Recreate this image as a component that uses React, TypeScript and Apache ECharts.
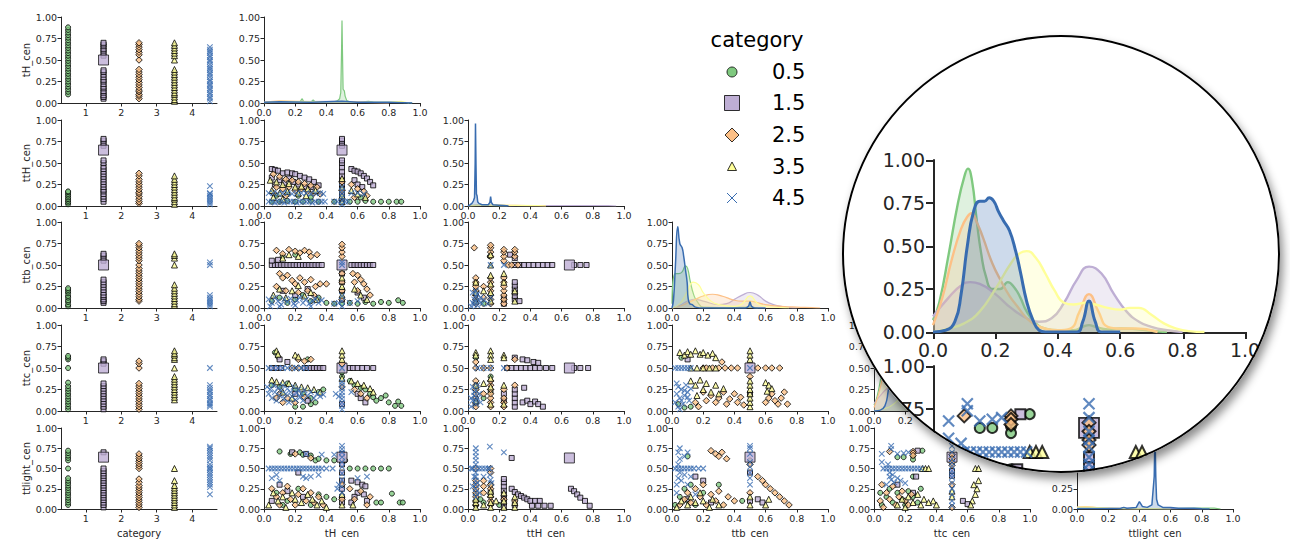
import React, { useEffect, useRef } from 'react';
import * as echarts from 'echarts';

type Pt = [number, number];

// ---------------- categories / variables ----------------
const VARIABLES = ['tH_cen', 'ttH_cen', 'ttb_cen', 'ttc_cen', 'ttlight_cen'];
const CATEGORIES = ['0.5', '1.5', '2.5', '3.5', '4.5'];
const CATEGORY_X = [0.5, 1.5, 2.5, 3.5, 4.5];
const CATEGORY_TICKS = [1, 2, 3, 4];
const COLORS = ['#7fc97f', '#beaed4', '#fdc086', '#ffff99', '#386cb0'];

// ---------------- strip plots (column "category") ----------------
// order inside each: [0.5, 1.5, 2.5, 3.5, 4.5]
const strip_tH: number[][] = [
  [0.10, 0.13, 0.16, 0.19, 0.22, 0.25, 0.28, 0.31, 0.34, 0.37, 0.40, 0.43, 0.46, 0.49, 0.52, 0.55, 0.58, 0.61, 0.64, 0.67, 0.70, 0.73, 0.76, 0.79, 0.82, 0.85, 0.88],
  [0.05, 0.07, 0.09, 0.12, 0.14, 0.17, 0.19, 0.22, 0.25, 0.27, 0.30, 0.33, 0.36, 0.38, 0.55, 0.58, 0.61, 0.63, 0.66, 0.68, 0.70],
  [0.05, 0.08, 0.10, 0.13, 0.15, 0.18, 0.21, 0.24, 0.27, 0.30, 0.33, 0.36, 0.39, 0.50, 0.56, 0.59, 0.62, 0.65, 0.68, 0.70],
  [0.02, 0.04, 0.07, 0.10, 0.12, 0.15, 0.18, 0.21, 0.24, 0.27, 0.30, 0.33, 0.36, 0.39, 0.50, 0.55, 0.58, 0.61, 0.64, 0.67, 0.70],
  [0.02, 0.05, 0.07, 0.10, 0.12, 0.15, 0.17, 0.20, 0.22, 0.25, 0.27, 0.30, 0.33, 0.35, 0.38, 0.40, 0.42, 0.45, 0.48, 0.50, 0.53, 0.55, 0.58, 0.60, 0.62, 0.65],
];
const strip_ttH: number[][] = [
  [0.02, 0.04, 0.06, 0.08, 0.10, 0.12, 0.14, 0.16, 0.17],
  [0.05, 0.08, 0.11, 0.14, 0.17, 0.19, 0.22, 0.25, 0.28, 0.31, 0.34, 0.37, 0.40, 0.43, 0.46, 0.50, 0.53, 0.70, 0.73, 0.76, 0.78],
  [0.03, 0.05, 0.08, 0.11, 0.14, 0.16, 0.19, 0.22, 0.25, 0.28, 0.31, 0.35, 0.38],
  [0.02, 0.05, 0.08, 0.10, 0.13, 0.16, 0.19, 0.22, 0.25, 0.28, 0.31, 0.35],
  [0.02, 0.04, 0.06, 0.08, 0.10, 0.12, 0.14, 0.15, 0.23],
];
const strip_ttb: number[][] = [
  [0.02, 0.04, 0.07, 0.09, 0.12, 0.14, 0.17, 0.19, 0.21, 0.23],
  [0.06, 0.08, 0.10, 0.13, 0.15, 0.18, 0.21, 0.24, 0.27, 0.30, 0.33, 0.55, 0.58, 0.61, 0.63],
  [0.08, 0.10, 0.13, 0.16, 0.19, 0.22, 0.25, 0.28, 0.31, 0.34, 0.37, 0.40, 0.43, 0.46, 0.50, 0.55, 0.58, 0.61, 0.64, 0.67, 0.70, 0.73, 0.75],
  [0.03, 0.05, 0.08, 0.11, 0.14, 0.17, 0.20, 0.23, 0.27, 0.50, 0.58, 0.61, 0.63],
  [0.02, 0.04, 0.06, 0.08, 0.10, 0.12, 0.15, 0.50, 0.53],
];
const strip_ttc: number[][] = [
  [0.02, 0.05, 0.08, 0.11, 0.14, 0.17, 0.20, 0.23, 0.26, 0.29, 0.33, 0.50, 0.60, 0.62, 0.64],
  [0.02, 0.05, 0.08, 0.11, 0.14, 0.17, 0.20, 0.23, 0.26, 0.29, 0.32, 0.55, 0.58, 0.60],
  [0.02, 0.05, 0.08, 0.11, 0.14, 0.17, 0.20, 0.23, 0.26, 0.29, 0.32, 0.50, 0.55, 0.58],
  [0.13, 0.16, 0.19, 0.22, 0.25, 0.28, 0.31, 0.34, 0.37, 0.40, 0.50, 0.60, 0.62, 0.65, 0.67, 0.70],
  [0.05, 0.07, 0.09, 0.12, 0.14, 0.17, 0.19, 0.22, 0.24, 0.27, 0.30, 0.50],
];
const strip_ttlight: number[][] = [
  [0.05, 0.08, 0.11, 0.14, 0.17, 0.20, 0.23, 0.26, 0.29, 0.32, 0.35, 0.38, 0.50, 0.60, 0.63, 0.66, 0.69, 0.72],
  [0.02, 0.05, 0.08, 0.11, 0.14, 0.17, 0.20, 0.23, 0.26, 0.29, 0.32, 0.35, 0.38, 0.41, 0.44, 0.47, 0.50, 0.70],
  [0.02, 0.05, 0.08, 0.11, 0.14, 0.17, 0.20, 0.23, 0.26, 0.29, 0.33, 0.37, 0.50, 0.53, 0.56, 0.59, 0.62, 0.65, 0.68],
  [0.02, 0.05, 0.08, 0.11, 0.14, 0.17, 0.20, 0.23, 0.26, 0.29, 0.35, 0.50],
  [0.18, 0.27, 0.30, 0.33, 0.36, 0.39, 0.42, 0.45, 0.48, 0.50, 0.52, 0.55, 0.60, 0.63, 0.66, 0.69, 0.72, 0.75, 0.77],
];
// the single large 1.5 marker in each strip row
const stripBig: number[] = [0.5, 0.65, 0.5, 0.5, 0.64];

// ---------------- scatter cells: [x, y] per category ----------------
const sc_tH_ttH: Pt[][] = [
  [[0.05, 0.05], [0.1, 0.05], [0.15, 0.06], [0.2, 0.05], [0.25, 0.05], [0.3, 0.06], [0.35, 0.05], [0.08, 0.12], [0.15, 0.14], [0.22, 0.12], [0.3, 0.1], [0.45, 0.05], [0.5, 0.08], [0.5, 0.12], [0.55, 0.05], [0.6, 0.05], [0.65, 0.06], [0.7, 0.05], [0.75, 0.05], [0.8, 0.05], [0.85, 0.05], [0.88, 0.05], [0.62, 0.1]],
  [[0.05, 0.43], [0.07, 0.42], [0.09, 0.41], [0.12, 0.38], [0.15, 0.39], [0.18, 0.38], [0.2, 0.37], [0.23, 0.35], [0.26, 0.33], [0.29, 0.31], [0.32, 0.28], [0.35, 0.24], [0.05, 0.33], [0.07, 0.25], [0.1, 0.3], [0.13, 0.27], [0.16, 0.32], [0.19, 0.28], [0.22, 0.25], [0.26, 0.22], [0.3, 0.22], [0.5, 0.05], [0.5, 0.1], [0.5, 0.15], [0.5, 0.2], [0.5, 0.25], [0.5, 0.3], [0.5, 0.35], [0.5, 0.4], [0.5, 0.45], [0.5, 0.5], [0.5, 0.53], [0.5, 0.7], [0.5, 0.73], [0.5, 0.76], [0.5, 0.78], [0.56, 0.43], [0.58, 0.41], [0.6, 0.4], [0.62, 0.38], [0.64, 0.35], [0.66, 0.32], [0.68, 0.28], [0.7, 0.24], [0.58, 0.3], [0.6, 0.25], [0.63, 0.22]],
  [[0.06, 0.37], [0.1, 0.34], [0.14, 0.31], [0.18, 0.3], [0.22, 0.28], [0.26, 0.26], [0.3, 0.24], [0.34, 0.22], [0.08, 0.22], [0.12, 0.2], [0.16, 0.22], [0.2, 0.18], [0.24, 0.2], [0.28, 0.17], [0.32, 0.15], [0.36, 0.14], [0.06, 0.15], [0.14, 0.12], [0.5, 0.08], [0.5, 0.18], [0.5, 0.28], [0.56, 0.25], [0.6, 0.2], [0.64, 0.17], [0.58, 0.1], [0.66, 0.12]],
  [[0.04, 0.3], [0.08, 0.28], [0.12, 0.25], [0.16, 0.26], [0.2, 0.22], [0.24, 0.23], [0.28, 0.2], [0.33, 0.18], [0.05, 0.18], [0.1, 0.15], [0.15, 0.17], [0.22, 0.15], [0.27, 0.12], [0.06, 0.1], [0.12, 0.08], [0.5, 0.05], [0.5, 0.12], [0.5, 0.22], [0.5, 0.32], [0.56, 0.18], [0.6, 0.14], [0.65, 0.1]],
  [[0.03, 0.05], [0.05, 0.05], [0.07, 0.04], [0.09, 0.05], [0.11, 0.05], [0.13, 0.04], [0.15, 0.05], [0.17, 0.05], [0.19, 0.05], [0.21, 0.04], [0.23, 0.05], [0.25, 0.05], [0.27, 0.05], [0.29, 0.05], [0.31, 0.04], [0.33, 0.05], [0.35, 0.05], [0.37, 0.05], [0.39, 0.05], [0.03, 0.15], [0.06, 0.15], [0.09, 0.14], [0.12, 0.15], [0.15, 0.15], [0.18, 0.14], [0.21, 0.15], [0.24, 0.15], [0.27, 0.15], [0.3, 0.14], [0.33, 0.15], [0.36, 0.15], [0.38, 0.14], [0.45, 0.05], [0.47, 0.05], [0.5, 0.02], [0.5, 0.06], [0.5, 0.1], [0.5, 0.14], [0.5, 0.18], [0.5, 0.22], [0.52, 0.05], [0.54, 0.05], [0.56, 0.15], [0.6, 0.15], [0.64, 0.14]],
];
const sc_tH_ttb: Pt[][] = [
  [[0.05, 0.08], [0.1, 0.12], [0.15, 0.06], [0.2, 0.1], [0.25, 0.15], [0.3, 0.08], [0.35, 0.12], [0.4, 0.06], [0.45, 0.05], [0.5, 0.05], [0.55, 0.06], [0.6, 0.05], [0.65, 0.07], [0.7, 0.05], [0.75, 0.07], [0.8, 0.06], [0.86, 0.09], [0.89, 0.06], [0.12, 0.6], [0.2, 0.62]],
  [[0.05, 0.5], [0.07, 0.5], [0.09, 0.5], [0.11, 0.5], [0.13, 0.5], [0.15, 0.5], [0.17, 0.5], [0.19, 0.5], [0.21, 0.5], [0.23, 0.5], [0.25, 0.5], [0.27, 0.5], [0.29, 0.5], [0.31, 0.5], [0.33, 0.5], [0.35, 0.5], [0.37, 0.5], [0.56, 0.5], [0.58, 0.5], [0.6, 0.5], [0.62, 0.5], [0.64, 0.5], [0.66, 0.5], [0.68, 0.5], [0.7, 0.5], [0.05, 0.55], [0.09, 0.56], [0.5, 0.1], [0.5, 0.2], [0.5, 0.3], [0.5, 0.4], [0.12, 0.2], [0.2, 0.15], [0.28, 0.22], [0.6, 0.18], [0.64, 0.12]],
  [[0.08, 0.67], [0.12, 0.63], [0.16, 0.68], [0.2, 0.66], [0.23, 0.64], [0.26, 0.67], [0.29, 0.65], [0.3, 0.6], [0.34, 0.62], [0.1, 0.4], [0.12, 0.35], [0.15, 0.38], [0.18, 0.32], [0.2, 0.28], [0.23, 0.35], [0.26, 0.3], [0.3, 0.33], [0.33, 0.25], [0.36, 0.28], [0.4, 0.28], [0.08, 0.25], [0.14, 0.2], [0.22, 0.18], [0.28, 0.2], [0.32, 0.15], [0.5, 0.1], [0.5, 0.2], [0.5, 0.3], [0.5, 0.4], [0.5, 0.6], [0.5, 0.65], [0.5, 0.7], [0.5, 0.74], [0.57, 0.4], [0.6, 0.38], [0.62, 0.33], [0.58, 0.3], [0.64, 0.28], [0.66, 0.22], [0.6, 0.2], [0.68, 0.15]],
  [[0.06, 0.15], [0.1, 0.22], [0.14, 0.12], [0.18, 0.2], [0.22, 0.26], [0.26, 0.14], [0.3, 0.18], [0.34, 0.1], [0.12, 0.58], [0.16, 0.62], [0.22, 0.6], [0.5, 0.15], [0.5, 0.25], [0.5, 0.35], [0.58, 0.22], [0.62, 0.15], [0.66, 0.1]],
  [[0.03, 0.1], [0.05, 0.06], [0.07, 0.12], [0.09, 0.08], [0.11, 0.04], [0.13, 0.1], [0.15, 0.07], [0.17, 0.11], [0.19, 0.05], [0.21, 0.09], [0.23, 0.12], [0.25, 0.06], [0.27, 0.1], [0.29, 0.05], [0.31, 0.08], [0.33, 0.11], [0.35, 0.06], [0.37, 0.09], [0.04, 0.02], [0.1, 0.02], [0.2, 0.03], [0.3, 0.02], [0.45, 0.05], [0.48, 0.06], [0.5, 0.02], [0.5, 0.08], [0.5, 0.14], [0.5, 0.5], [0.5, 0.53], [0.55, 0.06], [0.6, 0.08]],
];
const sc_ttH_ttb: Pt[][] = [
  [[0.05, 0.2], [0.05, 0.28], [0.14, 0.6], [0.05, 0.1], [0.145, 0.15], [0.23, 0.1], [0.1, 0.05]],
  [[0.3, 0.5], [0.33, 0.5], [0.36, 0.5], [0.39, 0.5], [0.42, 0.5], [0.45, 0.5], [0.48, 0.5], [0.51, 0.5], [0.54, 0.5], [0.68, 0.5], [0.72, 0.5], [0.76, 0.5], [0.27, 0.62], [0.3, 0.58], [0.3, 0.1], [0.3, 0.14], [0.3, 0.18], [0.3, 0.22], [0.3, 0.26], [0.3, 0.3], [0.33, 0.08], [0.23, 0.05], [0.23, 0.12]],
  [[0.04, 0.7], [0.05, 0.05], [0.05, 0.1], [0.05, 0.15], [0.05, 0.2], [0.05, 0.25], [0.05, 0.3], [0.05, 0.35], [0.145, 0.05], [0.145, 0.1], [0.145, 0.15], [0.145, 0.2], [0.145, 0.25], [0.145, 0.3], [0.145, 0.35], [0.145, 0.6], [0.145, 0.65], [0.145, 0.7], [0.145, 0.73], [0.23, 0.05], [0.23, 0.1], [0.23, 0.15], [0.23, 0.2], [0.23, 0.25], [0.23, 0.3], [0.23, 0.35], [0.23, 0.55], [0.23, 0.6], [0.23, 0.65], [0.23, 0.68], [0.3, 0.6], [0.3, 0.65], [0.3, 0.68], [0.26, 0.5], [0.28, 0.5], [0.32, 0.5], [0.1, 0.25], [0.1, 0.12]],
  [[0.05, 0.08], [0.05, 0.18], [0.05, 0.3], [0.1, 0.2], [0.145, 0.08], [0.145, 0.18], [0.145, 0.28], [0.145, 0.38], [0.145, 0.5], [0.145, 0.62], [0.23, 0.4], [0.23, 0.3], [0.3, 0.08], [0.3, 0.2]],
  [[0.02, 0.02], [0.03, 0.06], [0.04, 0.1], [0.05, 0.14], [0.06, 0.03], [0.07, 0.08], [0.08, 0.12], [0.03, 0.18], [0.05, 0.2], [0.06, 0.16], [0.04, 0.04], [0.09, 0.05], [0.1, 0.1], [0.05, 0.08], [0.145, 0.5], [0.23, 0.5], [0.145, 0.12], [0.13, 0.05]],
];
const sc_tH_ttc: Pt[][] = [
  [[0.07, 0.68], [0.09, 0.63], [0.28, 0.6], [0.05, 0.3], [0.1, 0.28], [0.15, 0.32], [0.2, 0.25], [0.25, 0.2], [0.3, 0.15], [0.33, 0.1], [0.35, 0.22], [0.2, 0.05], [0.25, 0.05], [0.3, 0.08], [0.38, 0.25], [0.55, 0.35], [0.58, 0.3], [0.62, 0.27], [0.65, 0.25], [0.68, 0.2], [0.7, 0.16], [0.72, 0.12], [0.75, 0.15], [0.78, 0.18], [0.8, 0.1], [0.84, 0.06], [0.86, 0.11], [0.88, 0.06], [0.5, 0.4], [0.5, 0.45]],
  [[0.05, 0.5], [0.08, 0.5], [0.11, 0.5], [0.26, 0.5], [0.28, 0.5], [0.3, 0.5], [0.32, 0.5], [0.34, 0.5], [0.36, 0.5], [0.38, 0.5], [0.1, 0.6], [0.15, 0.57], [0.55, 0.5], [0.57, 0.5], [0.6, 0.5], [0.63, 0.5], [0.66, 0.5], [0.7, 0.5], [0.6, 0.2], [0.62, 0.15], [0.65, 0.1], [0.2, 0.2], [0.28, 0.12], [0.5, 0.08]],
  [[0.1, 0.2], [0.15, 0.15], [0.2, 0.1], [0.22, 0.6], [0.26, 0.58], [0.3, 0.6], [0.18, 0.5], [0.22, 0.5], [0.08, 0.15], [0.26, 0.16], [0.12, 0.1], [0.5, 0.55], [0.5, 0.28], [0.58, 0.25], [0.62, 0.2], [0.66, 0.15]],
  [[0.08, 0.7], [0.09, 0.66], [0.2, 0.65], [0.22, 0.63], [0.05, 0.36], [0.08, 0.34], [0.12, 0.33], [0.16, 0.32], [0.2, 0.3], [0.24, 0.28], [0.28, 0.27], [0.32, 0.25], [0.36, 0.22], [0.12, 0.22], [0.18, 0.15], [0.5, 0.6], [0.5, 0.65], [0.5, 0.7], [0.5, 0.38], [0.56, 0.35], [0.6, 0.32], [0.64, 0.3], [0.68, 0.26], [0.7, 0.22]],
  [[0.02, 0.28], [0.03, 0.2], [0.04, 0.25], [0.05, 0.15], [0.06, 0.3], [0.07, 0.22], [0.08, 0.12], [0.09, 0.27], [0.1, 0.18], [0.11, 0.24], [0.12, 0.3], [0.13, 0.14], [0.14, 0.2], [0.15, 0.26], [0.16, 0.1], [0.17, 0.22], [0.18, 0.17], [0.19, 0.28], [0.2, 0.13], [0.21, 0.21], [0.22, 0.25], [0.23, 0.16], [0.24, 0.2], [0.25, 0.12], [0.26, 0.24], [0.28, 0.18], [0.3, 0.22], [0.32, 0.15], [0.34, 0.2], [0.36, 0.17], [0.38, 0.19], [0.03, 0.5], [0.06, 0.5], [0.09, 0.5], [0.12, 0.5], [0.15, 0.5], [0.18, 0.5], [0.21, 0.5], [0.24, 0.5], [0.27, 0.5], [0.5, 0.02], [0.5, 0.06], [0.5, 0.1], [0.5, 0.14], [0.5, 0.18], [0.5, 0.22], [0.5, 0.26], [0.5, 0.3], [0.5, 0.34], [0.5, 0.5], [0.46, 0.2], [0.48, 0.17], [0.56, 0.22]],
];
const sc_ttH_ttc: Pt[][] = [
  [[0.05, 0.62], [0.05, 0.08], [0.1, 0.15], [0.145, 0.22], [0.05, 0.25], [0.145, 0.4]],
  [[0.25, 0.5], [0.28, 0.5], [0.31, 0.5], [0.34, 0.5], [0.37, 0.5], [0.4, 0.5], [0.43, 0.5], [0.46, 0.5], [0.5, 0.5], [0.54, 0.5], [0.68, 0.5], [0.72, 0.5], [0.77, 0.5], [0.3, 0.62], [0.35, 0.6], [0.38, 0.59], [0.42, 0.57], [0.45, 0.56], [0.3, 0.05], [0.3, 0.1], [0.3, 0.15], [0.3, 0.2], [0.3, 0.25], [0.35, 0.1], [0.36, 0.27], [0.38, 0.12], [0.4, 0.08], [0.43, 0.11], [0.45, 0.08], [0.48, 0.05], [0.23, 0.12], [0.23, 0.2]],
  [[0.05, 0.05], [0.05, 0.1], [0.05, 0.15], [0.05, 0.2], [0.05, 0.25], [0.05, 0.3], [0.05, 0.35], [0.05, 0.5], [0.05, 0.57], [0.1, 0.5], [0.1, 0.2], [0.145, 0.05], [0.145, 0.1], [0.145, 0.15], [0.145, 0.2], [0.145, 0.25], [0.145, 0.3], [0.145, 0.35], [0.145, 0.5], [0.23, 0.05], [0.23, 0.1], [0.23, 0.15], [0.23, 0.25], [0.3, 0.3], [0.3, 0.6], [0.25, 0.5]],
  [[0.05, 0.68], [0.05, 0.65], [0.145, 0.7], [0.145, 0.65], [0.145, 0.6], [0.23, 0.65], [0.23, 0.62], [0.05, 0.3], [0.145, 0.28], [0.145, 0.38], [0.23, 0.3], [0.23, 0.08], [0.145, 0.08], [0.05, 0.12], [0.1, 0.32]],
  [[0.02, 0.05], [0.03, 0.12], [0.04, 0.18], [0.05, 0.24], [0.06, 0.3], [0.03, 0.28], [0.05, 0.08], [0.06, 0.15], [0.07, 0.2], [0.04, 0.22], [0.02, 0.15], [0.08, 0.1], [0.05, 0.12], [0.1, 0.5], [0.145, 0.5], [0.23, 0.5], [0.06, 0.5]],
];
const sc_ttb_ttc: Pt[][] = [
  [[0.06, 0.62], [0.04, 0.08], [0.08, 0.04], [0.12, 0.05]],
  [[0.1, 0.6], [0.5, 0.2]],
  [[0.2, 0.5], [0.22, 0.5], [0.26, 0.5], [0.3, 0.5], [0.34, 0.5], [0.38, 0.5], [0.42, 0.5], [0.55, 0.5], [0.6, 0.5], [0.64, 0.5], [0.69, 0.5], [0.32, 0.57], [0.2, 0.22], [0.22, 0.12], [0.25, 0.18], [0.28, 0.1], [0.3, 0.15], [0.33, 0.22], [0.35, 0.08], [0.37, 0.14], [0.4, 0.2], [0.42, 0.1], [0.44, 0.16], [0.46, 0.07], [0.15, 0.1], [0.17, 0.05], [0.6, 0.1], [0.62, 0.15], [0.64, 0.2], [0.66, 0.12], [0.68, 0.08], [0.7, 0.15], [0.72, 0.22], [0.74, 0.08], [0.5, 0.4]],
  [[0.05, 0.68], [0.08, 0.65], [0.1, 0.69], [0.12, 0.66], [0.15, 0.7], [0.18, 0.66], [0.2, 0.68], [0.23, 0.65], [0.26, 0.67], [0.28, 0.62], [0.12, 0.5], [0.16, 0.5], [0.2, 0.5], [0.24, 0.5], [0.28, 0.5], [0.12, 0.35], [0.15, 0.3], [0.18, 0.36], [0.2, 0.25], [0.22, 0.32], [0.25, 0.22], [0.28, 0.3], [0.3, 0.2], [0.33, 0.26], [0.16, 0.18], [0.5, 0.05], [0.5, 0.1], [0.5, 0.15], [0.5, 0.2], [0.5, 0.25], [0.5, 0.3], [0.5, 0.35], [0.5, 0.6], [0.5, 0.65], [0.5, 0.7], [0.6, 0.33], [0.62, 0.3], [0.64, 0.26], [0.61, 0.23]],
  [[0.02, 0.5], [0.04, 0.5], [0.06, 0.5], [0.08, 0.5], [0.1, 0.5], [0.12, 0.5], [0.02, 0.1], [0.03, 0.2], [0.04, 0.28], [0.05, 0.15], [0.06, 0.25], [0.07, 0.08], [0.08, 0.18], [0.09, 0.3], [0.1, 0.22], [0.11, 0.12], [0.12, 0.26], [0.04, 0.05], [0.06, 0.12], [0.08, 0.24], [0.03, 0.32], [0.1, 0.16], [0.5, 0.5], [0.05, 0.02]],
];
const sc_tH_ttlight: Pt[][] = [
  [[0.1, 0.71], [0.17, 0.68], [0.23, 0.7], [0.25, 0.67], [0.3, 0.66], [0.33, 0.6], [0.35, 0.62], [0.4, 0.6], [0.45, 0.6], [0.52, 0.6], [0.55, 0.5], [0.6, 0.5], [0.65, 0.5], [0.7, 0.5], [0.75, 0.5], [0.8, 0.5], [0.4, 0.15], [0.45, 0.12], [0.72, 0.08], [0.75, 0.08], [0.82, 0.19], [0.87, 0.08], [0.89, 0.08], [0.08, 0.2], [0.15, 0.1], [0.22, 0.25], [0.3, 0.05], [0.35, 0.18], [0.12, 0.05]],
  [[0.18, 0.7], [0.27, 0.68], [0.22, 0.45], [0.5, 0.08], [0.5, 0.15], [0.5, 0.25], [0.5, 0.35], [0.5, 0.45], [0.5, 0.55], [0.5, 0.68], [0.56, 0.35], [0.6, 0.33], [0.63, 0.3], [0.65, 0.28], [0.6, 0.2], [0.58, 0.15], [0.64, 0.18], [0.66, 0.1], [0.56, 0.08], [0.1, 0.3], [0.15, 0.22], [0.25, 0.15], [0.05, 0.1]],
  [[0.2, 0.68], [0.3, 0.63], [0.05, 0.25], [0.08, 0.15], [0.1, 0.05], [0.12, 0.2], [0.15, 0.28], [0.17, 0.12], [0.2, 0.05], [0.22, 0.18], [0.25, 0.25], [0.27, 0.1], [0.3, 0.2], [0.32, 0.08], [0.35, 0.15], [0.38, 0.05], [0.55, 0.25], [0.58, 0.12], [0.62, 0.22], [0.66, 0.05], [0.68, 0.15], [0.5, 0.12], [0.5, 0.3]],
  [[0.03, 0.05], [0.06, 0.2], [0.09, 0.1], [0.12, 0.15], [0.14, 0.02], [0.18, 0.2], [0.2, 0.12], [0.24, 0.08], [0.28, 0.18], [0.31, 0.12], [0.34, 0.05], [0.37, 0.1], [0.4, 0.02], [0.5, 0.05], [0.5, 0.18], [0.57, 0.05]],
  [[0.03, 0.5], [0.05, 0.5], [0.07, 0.5], [0.09, 0.5], [0.11, 0.5], [0.13, 0.5], [0.15, 0.5], [0.17, 0.5], [0.19, 0.5], [0.21, 0.5], [0.23, 0.5], [0.25, 0.5], [0.27, 0.5], [0.29, 0.5], [0.31, 0.5], [0.33, 0.5], [0.35, 0.5], [0.37, 0.5], [0.4, 0.5], [0.44, 0.5], [0.5, 0.2], [0.5, 0.28], [0.5, 0.36], [0.5, 0.44], [0.5, 0.52], [0.5, 0.58], [0.5, 0.64], [0.5, 0.7], [0.5, 0.74], [0.5, 0.78], [0.27, 0.68], [0.37, 0.67], [0.45, 0.67], [0.25, 0.4], [0.27, 0.38], [0.3, 0.4], [0.35, 0.42], [0.48, 0.3], [0.47, 0.25], [0.6, 0.38], [0.66, 0.4], [0.05, 0.38], [0.1, 0.35], [0.08, 0.42]],
];
const sc_ttH_ttlight: Pt[][] = [
  [[0.05, 0.04], [0.05, 0.1], [0.05, 0.18], [0.08, 0.12], [0.145, 0.3], [0.1, 0.08], [0.2, 0.05]],
  [[0.28, 0.63], [0.23, 0.03], [0.23, 0.08], [0.23, 0.13], [0.23, 0.18], [0.23, 0.23], [0.23, 0.28], [0.23, 0.33], [0.23, 0.37], [0.28, 0.25], [0.3, 0.21], [0.32, 0.18], [0.34, 0.16], [0.36, 0.14], [0.38, 0.12], [0.4, 0.1], [0.43, 0.1], [0.46, 0.1], [0.41, 0.04], [0.45, 0.04], [0.49, 0.04], [0.53, 0.04], [0.66, 0.25], [0.68, 0.22], [0.7, 0.18], [0.72, 0.14], [0.75, 0.1], [0.78, 0.04], [0.145, 0.2], [0.3, 0.05]],
  [[0.05, 0.05], [0.05, 0.1], [0.05, 0.15], [0.05, 0.2], [0.05, 0.25], [0.05, 0.3], [0.05, 0.35], [0.1, 0.2], [0.1, 0.28], [0.1, 0.35], [0.145, 0.05], [0.145, 0.1], [0.145, 0.15], [0.145, 0.25], [0.145, 0.3], [0.145, 0.45], [0.145, 0.5], [0.05, 0.5], [0.23, 0.12], [0.3, 0.1]],
  [[0.05, 0.02], [0.05, 0.08], [0.05, 0.12], [0.145, 0.02], [0.145, 0.08], [0.145, 0.18], [0.145, 0.22], [0.23, 0.02], [0.23, 0.1], [0.23, 0.2], [0.3, 0.02], [0.3, 0.08], [0.3, 0.15], [0.1, 0.05], [0.18, 0.1]],
  [[0.05, 0.15], [0.05, 0.2], [0.05, 0.25], [0.05, 0.3], [0.05, 0.35], [0.05, 0.4], [0.05, 0.45], [0.05, 0.5], [0.05, 0.55], [0.05, 0.6], [0.05, 0.65], [0.05, 0.7], [0.05, 0.75], [0.02, 0.5], [0.03, 0.5], [0.07, 0.5], [0.09, 0.5], [0.11, 0.5], [0.13, 0.5], [0.04, 0.4], [0.06, 0.32], [0.03, 0.28], [0.07, 0.2], [0.1, 0.4], [0.14, 0.77], [0.23, 0.7], [0.14, 0.5], [0.14, 0.42], [0.15, 0.32], [0.145, 0.36]],
];
const sc_ttb_ttlight: Pt[][] = [
  [[0.02, 0.05], [0.05, 0.15], [0.08, 0.25], [0.1, 0.1], [0.12, 0.3], [0.15, 0.05], [0.2, 0.2], [0.5, 0.6], [0.45, 0.1], [0.1, 0.65], [0.3, 0.3]],
  [[0.5, 0.1], [0.5, 0.45], [0.55, 0.12], [0.58, 0.08], [0.15, 0.4], [0.2, 0.35], [0.1, 0.12], [0.25, 0.08]],
  [[0.25, 0.72], [0.28, 0.68], [0.3, 0.65], [0.32, 0.7], [0.35, 0.62], [0.05, 0.05], [0.08, 0.12], [0.1, 0.2], [0.12, 0.08], [0.15, 0.25], [0.18, 0.15], [0.2, 0.3], [0.22, 0.05], [0.25, 0.18], [0.28, 0.1], [0.3, 0.22], [0.33, 0.05], [0.36, 0.15], [0.4, 0.1], [0.5, 0.2], [0.5, 0.55], [0.55, 0.4], [0.58, 0.35], [0.6, 0.3], [0.63, 0.25], [0.66, 0.2], [0.69, 0.15], [0.72, 0.1], [0.75, 0.05]],
  [[0.03, 0.02], [0.06, 0.1], [0.1, 0.05], [0.12, 0.15], [0.15, 0.08], [0.18, 0.2], [0.2, 0.1], [0.24, 0.02], [0.26, 0.12], [0.3, 0.05], [0.5, 0.05], [0.5, 0.15], [0.6, 0.05], [0.62, 0.12]],
  [[0.02, 0.5], [0.04, 0.5], [0.06, 0.5], [0.08, 0.5], [0.1, 0.5], [0.12, 0.5], [0.14, 0.5], [0.17, 0.5], [0.2, 0.5], [0.03, 0.2], [0.03, 0.3], [0.04, 0.38], [0.05, 0.45], [0.04, 0.55], [0.05, 0.62], [0.04, 0.7], [0.05, 0.75], [0.06, 0.35], [0.08, 0.42], [0.1, 0.3], [0.12, 0.4], [0.08, 0.65], [0.1, 0.7], [0.5, 0.3], [0.5, 0.38], [0.5, 0.45], [0.5, 0.52], [0.5, 0.58], [0.5, 0.68], [0.5, 0.75], [0.5, 0.78], [0.15, 0.18]],
];
const sc_ttc_ttlight: Pt[][] = [
  [[0.15, 0.64], [0.19, 0.64], [0.25, 0.65], [0.25, 0.61], [0.31, 0.72], [0.25, 0.4], [0.05, 0.05], [0.08, 0.15], [0.1, 0.25], [0.12, 0.08], [0.15, 0.2], [0.18, 0.12], [0.2, 0.05], [0.22, 0.22], [0.25, 0.15], [0.28, 0.08], [0.04, 0.2], [0.3, 0.25]],
  [[0.28, 0.72], [0.27, 0.4], [0.5, 0.47], [0.5, 0.41], [0.57, 0.1], [0.6, 0.06], [0.25, 0.2], [0.15, 0.3]],
  [[0.1, 0.71], [0.25, 0.71], [0.25, 0.69], [0.25, 0.66], [0.5, 0.67], [0.5, 0.62], [0.5, 0.57], [0.5, 0.54], [0.04, 0.1], [0.06, 0.02], [0.08, 0.2], [0.1, 0.12], [0.12, 0.28], [0.14, 0.05], [0.16, 0.15], [0.18, 0.22], [0.2, 0.1], [0.22, 0.05], [0.24, 0.18], [0.5, 0.02], [0.5, 0.3], [0.05, 0.3]],
  [[0.31, 0.5], [0.33, 0.5], [0.35, 0.5], [0.65, 0.5], [0.67, 0.5], [0.15, 0.05], [0.18, 0.12], [0.2, 0.02], [0.22, 0.15], [0.25, 0.08], [0.28, 0.18], [0.3, 0.05], [0.32, 0.12], [0.35, 0.08], [0.38, 0.1], [0.4, 0.05], [0.63, 0.1], [0.65, 0.18], [0.66, 0.25], [0.64, 0.3], [0.67, 0.35], [0.62, 0.05], [0.5, 0.15], [0.5, 0.22]],
  [[0.11, 0.78], [0.05, 0.68], [0.11, 0.74], [0.15, 0.68], [0.19, 0.69], [0.22, 0.7], [0.06, 0.5], [0.08, 0.5], [0.1, 0.5], [0.12, 0.5], [0.14, 0.5], [0.16, 0.5], [0.18, 0.5], [0.2, 0.5], [0.22, 0.5], [0.24, 0.5], [0.26, 0.5], [0.28, 0.5], [0.3, 0.5], [0.1, 0.45], [0.1, 0.4], [0.12, 0.42], [0.11, 0.36], [0.13, 0.33], [0.08, 0.3], [0.15, 0.38], [0.17, 0.35], [0.2, 0.32], [0.05, 0.58], [0.09, 0.55], [0.5, 0.78], [0.5, 0.7], [0.5, 0.62], [0.5, 0.57], [0.5, 0.53], [0.5, 0.47], [0.5, 0.43], [0.5, 0.39], [0.5, 0.32], [0.5, 0.25], [0.5, 0.18], [0.5, 0.1], [0.5, 0.04]],
];
// the single large 1.5 marker in each scatter cell
const big_tH_ttH: Pt[] = [[0.5, 0.65]];
const big_tH_ttb: Pt[] = [[0.5, 0.5]];
const big_ttH_ttb: Pt[] = [[0.65, 0.5]];
const big_tH_ttc: Pt[] = [[0.5, 0.5]];
const big_ttH_ttc: Pt[] = [[0.65, 0.5]];
const big_ttb_ttc: Pt[] = [[0.5, 0.5]];
const big_tH_ttlight: Pt[] = [[0.5, 0.64]];
const big_ttH_ttlight: Pt[] = [[0.65, 0.63]];
const big_ttb_ttlight: Pt[] = [[0.5, 0.64]];
const big_ttc_ttlight: Pt[] = [[0.5, 0.64]];

// ---------------- diagonal density curves ----------------
const kde_tH: Pt[][] = [
  [[0, 0.005], [0.05, 0.01], [0.1, 0.012], [0.2, 0.01], [0.23, 0.012], [0.245, 0.05], [0.255, 0.012], [0.3, 0.01], [0.315, 0.035], [0.33, 0.01], [0.4, 0.01], [0.45, 0.015], [0.47, 0.025], [0.485, 0.05], [0.492, 0.12], [0.497, 0.6], [0.5, 0.96], [0.503, 0.6], [0.507, 0.16], [0.515, 0.14], [0.52, 0.08], [0.53, 0.03], [0.55, 0.01], [0.6, 0.008], [0.67, 0.02], [0.7, 0.01], [0.8, 0.008], [0.88, 0.01], [0.9, 0.003], [0.95, 0]],
  [[0, 0.005], [0.2, 0.015], [0.5, 0.02], [0.65, 0.01], [0.8, 0]],
  [[0, 0.01], [0.1, 0.025], [0.2, 0.02], [0.3, 0.015], [0.5, 0.015], [0.6, 0.01], [0.7, 0.005], [0.8, 0]],
  [[0, 0.005], [0.1, 0.02], [0.3, 0.015], [0.5, 0.01], [0.8, 0.008], [0.88, 0.02], [0.93, 0]],
  [[0, 0.01], [0.1, 0.015], [0.3, 0.01], [0.5, 0.02], [0.6, 0.01], [0.8, 0.008], [0.9, 0.003], [0.95, 0]],
];
const kde_ttH: Pt[][] = [
  [[0, 0.004], [0.1, 0.01], [0.2, 0.002], [0.25, 0]],
  [[0.2, 0], [0.3, 0.004], [0.5, 0.006], [0.7, 0.006], [0.9, 0.004], [0.95, 0]],
  [[0, 0.005], [0.1, 0.01], [0.3, 0.008], [0.45, 0.003], [0.5, 0]],
  [[0, 0.003], [0.1, 0.008], [0.2, 0.01], [0.3, 0.008], [0.45, 0.005], [0.5, 0]],
  [[0, 0], [0.01, 0.01], [0.025, 0.03], [0.035, 0.06], [0.042, 0.1], [0.046, 0.5], [0.048, 0.96], [0.051, 0.5], [0.054, 0.14], [0.058, 0.12], [0.062, 0.05], [0.07, 0.03], [0.09, 0.015], [0.13, 0.015], [0.14, 0.04], [0.145, 0.11], [0.15, 0.04], [0.16, 0.015], [0.2, 0.01], [0.23, 0.005], [0.26, 0]],
];
const kde_ttb: Pt[][] = [
  [[0, 0.05], [0.02, 0.4], [0.043, 0.4], [0.065, 0.42], [0.086, 0.49], [0.1, 0.46], [0.118, 0.3], [0.14, 0.15], [0.16, 0.08], [0.2, 0.01], [0.3, 0.005], [0.5, 0.01], [0.55, 0]],
  [[0, 0], [0.05, 0.03], [0.1, 0.08], [0.15, 0.1], [0.2, 0.08], [0.3, 0.04], [0.35, 0.05], [0.4, 0.1], [0.45, 0.15], [0.5, 0.18], [0.55, 0.15], [0.6, 0.08], [0.65, 0.04], [0.7, 0.02], [0.75, 0.005], [0.8, 0]],
  [[0, 0], [0.05, 0.02], [0.1, 0.06], [0.15, 0.1], [0.2, 0.14], [0.26, 0.16], [0.3, 0.15], [0.35, 0.12], [0.4, 0.09], [0.45, 0.08], [0.5, 0.08], [0.55, 0.06], [0.6, 0.04], [0.7, 0.02], [0.8, 0.01], [0.9, 0.005], [0.95, 0]],
  [[0, 0], [0.05, 0.05], [0.1, 0.2], [0.135, 0.3], [0.17, 0.27], [0.2, 0.18], [0.25, 0.08], [0.3, 0.04], [0.4, 0.02], [0.45, 0.05], [0.5, 0.14], [0.55, 0.05], [0.6, 0.02], [0.7, 0.005], [0.75, 0]],
  [[0, 0], [0.01, 0.1], [0.022, 0.5], [0.037, 0.945], [0.05, 0.75], [0.065, 0.7], [0.075, 0.6], [0.086, 0.45], [0.097, 0.3], [0.103, 0.12], [0.114, 0.05], [0.13, 0.04], [0.15, 0.01], [0.2, 0], [0.47, 0], [0.49, 0.02], [0.5, 0.07], [0.51, 0.02], [0.53, 0], [0.6, 0]],
];
const kde_ttc: Pt[][] = [
  [[0, 0.07], [0.02, 0.17], [0.05, 0.45], [0.08, 0.75], [0.1, 0.9], [0.112, 0.95], [0.125, 0.88], [0.14, 0.65], [0.155, 0.45], [0.17, 0.32], [0.19, 0.25], [0.215, 0.25], [0.24, 0.29], [0.26, 0.26], [0.28, 0.2], [0.3, 0.12], [0.33, 0.05], [0.36, 0.02], [0.4, 0.01], [0.45, 0.01], [0.48, 0.03], [0.5, 0.04], [0.52, 0.03], [0.56, 0.015], [0.6, 0.02], [0.64, 0.018], [0.7, 0.007], [0.75, 0]],
  [[0, 0.09], [0.05, 0.2], [0.09, 0.27], [0.12, 0.29], [0.15, 0.28], [0.2, 0.22], [0.25, 0.14], [0.3, 0.08], [0.34, 0.06], [0.38, 0.08], [0.42, 0.17], [0.46, 0.3], [0.5, 0.38], [0.54, 0.34], [0.58, 0.22], [0.62, 0.12], [0.66, 0.06], [0.7, 0.03], [0.75, 0.01], [0.8, 0]],
  [[0, 0.04], [0.03, 0.2], [0.06, 0.42], [0.09, 0.6], [0.11, 0.67], [0.124, 0.69], [0.14, 0.64], [0.16, 0.55], [0.19, 0.4], [0.22, 0.29], [0.245, 0.21], [0.27, 0.15], [0.3, 0.08], [0.33, 0.04], [0.36, 0.02], [0.4, 0.01], [0.44, 0.02], [0.47, 0.12], [0.5, 0.22], [0.53, 0.12], [0.56, 0.03], [0.6, 0.02], [0.65, 0.02], [0.72, 0]],
  [[0, 0], [0.05, 0.02], [0.1, 0.05], [0.15, 0.12], [0.2, 0.25], [0.25, 0.4], [0.28, 0.46], [0.3, 0.47], [0.33, 0.43], [0.36, 0.34], [0.39, 0.24], [0.42, 0.17], [0.45, 0.16], [0.49, 0.17], [0.52, 0.16], [0.56, 0.14], [0.6, 0.13], [0.63, 0.14], [0.66, 0.14], [0.7, 0.1], [0.74, 0.05], [0.78, 0.02], [0.82, 0.005], [0.87, 0]],
  [[0, 0], [0.04, 0.01], [0.07, 0.06], [0.09, 0.22], [0.11, 0.5], [0.13, 0.7], [0.15, 0.76], [0.165, 0.76], [0.18, 0.78], [0.195, 0.76], [0.21, 0.7], [0.225, 0.65], [0.245, 0.59], [0.265, 0.47], [0.28, 0.35], [0.3, 0.18], [0.32, 0.07], [0.34, 0.01], [0.36, 0], [0.46, 0], [0.48, 0.06], [0.5, 0.18], [0.52, 0.06], [0.54, 0], [0.6, 0]],
];
const kde_ttlight: Pt[][] = [
  [[0, 0.01], [0.1, 0.01], [0.3, 0.005], [0.6, 0.005], [0.8, 0.01], [0.88, 0.01], [0.92, 0]],
  [[0, 0.01], [0.2, 0.008], [0.5, 0.005], [0.7, 0.004], [0.8, 0]],
  [[0, 0.025], [0.05, 0.03], [0.1, 0.025], [0.15, 0.01], [0.3, 0.005], [0.4, 0]],
  [[0, 0.02], [0.05, 0.025], [0.1, 0.02], [0.2, 0.01], [0.3, 0.005], [0.5, 0.005], [0.6, 0]],
  [[0, 0.005], [0.1, 0.005], [0.2, 0.005], [0.28, 0.01], [0.3, 0.02], [0.32, 0.01], [0.38, 0.02], [0.4, 0.09], [0.42, 0.03], [0.45, 0.02], [0.48, 0.05], [0.495, 0.4], [0.5, 0.95], [0.505, 0.4], [0.51, 0.12], [0.52, 0.05], [0.55, 0.02], [0.6, 0.02], [0.65, 0.01], [0.75, 0.01], [0.8, 0.002], [0.85, 0]],
];

// ---------------- lookup tables built from the arrays ----------------
const STRIPS = [strip_tH, strip_ttH, strip_ttb, strip_ttc, strip_ttlight];
const KDES = [kde_tH, kde_ttH, kde_ttb, kde_ttc, kde_ttlight];
const SCATTERS: Record<string, { pts: Pt[][]; big: Pt[] }> = {
  '1-1': { pts: sc_tH_ttH, big: big_tH_ttH },
  '2-1': { pts: sc_tH_ttb, big: big_tH_ttb },
  '2-2': { pts: sc_ttH_ttb, big: big_ttH_ttb },
  '3-1': { pts: sc_tH_ttc, big: big_tH_ttc },
  '3-2': { pts: sc_ttH_ttc, big: big_ttH_ttc },
  '3-3': { pts: sc_ttb_ttc, big: big_ttb_ttc },
  '4-1': { pts: sc_tH_ttlight, big: big_tH_ttlight },
  '4-2': { pts: sc_ttH_ttlight, big: big_ttH_ttlight },
  '4-3': { pts: sc_ttb_ttlight, big: big_ttb_ttlight },
  '4-4': { pts: sc_ttc_ttlight, big: big_ttc_ttlight },
};

// ---------------- layout / style ----------------
const COL_X = [61, 264, 468, 672, 874, 1077];
const ROW_Y = [17, 120, 222, 325, 428];
const CELL_W = 156;
const CELL_H = 86;
const INK = '#262626';
const FONT = 'DejaVu Sans';
const TICK_FONT = 9.5;
const X_SYMBOL = 'path://M0,0L10,10M10,0L0,10';
const SYMBOLS = ['circle', 'rect', 'diamond', 'triangle', X_SYMBOL];
const SIZES = [5, 5, 6.5, 6, 5.5];

function axisCommon() {
  return {
    splitLine: { show: false },
    axisLine: { show: true, onZero: false, lineStyle: { color: INK, width: 1 } },
    axisTick: { show: true, length: 3.5, lineStyle: { color: INK, width: 1 } },
  };
}

function markerStyle(k: number) {
  if (k === 4) return { color: 'rgba(0,0,0,0)', borderColor: COLORS[4], borderWidth: 1.1 };
  return { color: COLORS[k], borderColor: '#000', borderWidth: 1 };
}

function buildOption(only: string[] | null, isLens: boolean) {
  const grid: any[] = [];
  const xAxis: any[] = [];
  const yAxis: any[] = [];
  const series: any[] = [];

  for (let r = 0; r < 5; r++) {
    for (let c = 0; c <= r + 1; c++) {
      const key = `${r}-${c}`;
      if (only && !only.includes(key)) continue;
      const gi = grid.length;
      grid.push({ left: COL_X[c], top: ROW_Y[r], width: CELL_W, height: CELL_H, containLabel: false });
      const bottomName = !isLens && r === 4 ? (c === 0 ? 'category' : VARIABLES[c - 1]) : '';
      const base = axisCommon();
      // inside the lens, the lower cell only shows its upper y labels
      const lensLower = isLens && key === '4-4';
      if (c === 0) {
        xAxis.push({
          gridIndex: gi, type: 'value', min: 0.3, max: 4.7,
          ...base,
          axisTick: { ...base.axisTick, customValues: CATEGORY_TICKS },
          axisLabel: { customValues: CATEGORY_TICKS, fontSize: TICK_FONT, color: INK, margin: 4, fontFamily: FONT },
          name: bottomName, nameLocation: 'middle', nameGap: 19,
          nameTextStyle: { fontSize: 10, color: INK, fontFamily: FONT },
        });
      } else {
        xAxis.push({
          gridIndex: gi, type: 'value', min: 0, max: 1, interval: 0.2,
          ...base,
          axisLabel: { show: !lensLower, fontSize: TICK_FONT, color: INK, margin: 4, fontFamily: FONT, formatter: (v: number) => v.toFixed(1) },
          name: bottomName, nameLocation: 'middle', nameGap: 19,
          nameTextStyle: { fontSize: 10, color: INK, fontFamily: FONT },
        });
      }
      const yLabel: any = { fontSize: TICK_FONT, color: INK, margin: 4, fontFamily: FONT, formatter: (v: number) => v.toFixed(2) };
      if (lensLower) yLabel.customValues = [0.75, 1];
      yAxis.push({
        gridIndex: gi, type: 'value', min: 0, max: 1, interval: 0.25,
        ...base,
        axisLabel: yLabel,
        name: c === 0 && !isLens ? VARIABLES[r] : '', nameLocation: 'middle', nameGap: 18, nameRotate: 90,
        nameTextStyle: { fontSize: 10, color: INK, fontFamily: FONT },
      });

      if (c === 0) {
        // strip plot
        for (let k = 0; k < 5; k++) {
          series.push({
            type: 'scatter', name: CATEGORIES[k], xAxisIndex: gi, yAxisIndex: gi,
            data: STRIPS[r][k].map((v) => [CATEGORY_X[k], v]),
            symbol: SYMBOLS[k], symbolSize: SIZES[k], itemStyle: markerStyle(k), z: 2 + k,
          });
          if (k === 1) {
            series.push({
              type: 'scatter', name: CATEGORIES[1], xAxisIndex: gi, yAxisIndex: gi,
              data: [[CATEGORY_X[1], stripBig[r]]],
              symbol: 'rect', symbolSize: 10, itemStyle: { color: COLORS[1], borderColor: '#000', borderWidth: 0.9 }, z: 8,
            });
          }
        }
      } else if (c - 1 === r) {
        // diagonal density
        for (let k = 0; k < 5; k++) {
          series.push({
            type: 'line', name: CATEGORIES[k], xAxisIndex: gi, yAxisIndex: gi,
            data: KDES[r][k], showSymbol: false, symbol: 'none',
            smooth: r === 2 || r === 3 ? 0.5 : false,
            lineStyle: { color: COLORS[k], width: k === 4 ? 1.5 : 1.2 },
            areaStyle: { color: COLORS[k], opacity: 0.25 },
            z: 2 + k,
          });
        }
      } else {
        const cell = SCATTERS[key];
        for (let k = 0; k < 5; k++) {
          series.push({
            type: 'scatter', name: CATEGORIES[k], xAxisIndex: gi, yAxisIndex: gi,
            data: cell.pts[k], symbol: SYMBOLS[k], symbolSize: SIZES[k], itemStyle: markerStyle(k), z: 2 + k,
          });
          if (k === 1) {
            series.push({
              type: 'scatter', name: CATEGORIES[1], xAxisIndex: gi, yAxisIndex: gi,
              data: cell.big, symbol: 'rect', symbolSize: 10,
              itemStyle: { color: COLORS[1], borderColor: '#000', borderWidth: 0.9 }, z: 3,
            });
          }
        }
      }
    }
  }

  const graphic: any[] = [];
  if (!isLens) {
    const LX = 732;
    const ROWS = [72, 103, 135, 167, 198];
    graphic.push({
      type: 'text', x: 757, y: 40,
      style: { text: 'category', fontSize: 21, fontFamily: FONT, fill: '#000', textAlign: 'center', textVerticalAlign: 'middle' },
    });
    CATEGORIES.forEach((lab, k) => {
      graphic.push({
        type: 'text', x: 772, y: ROWS[k],
        style: { text: lab, fontSize: 21, fontFamily: FONT, fill: '#000', textAlign: 'left', textVerticalAlign: 'middle' },
      });
    });
    const edge = { stroke: '#000', lineWidth: 0.8 };
    graphic.push({ type: 'circle', shape: { cx: LX, cy: ROWS[0], r: 5 }, style: { fill: COLORS[0], ...edge } });
    graphic.push({ type: 'rect', shape: { x: LX - 7.5, y: ROWS[1] - 7.5, width: 15, height: 15 }, style: { fill: COLORS[1], ...edge } });
    graphic.push({ type: 'polygon', shape: { points: [[LX, ROWS[2] - 7], [LX + 7, ROWS[2]], [LX, ROWS[2] + 7], [LX - 7, ROWS[2]]] }, style: { fill: COLORS[2], ...edge } });
    graphic.push({ type: 'polygon', shape: { points: [[LX, ROWS[3] - 5], [LX + 4.5, ROWS[3] + 3.5], [LX - 4.5, ROWS[3] + 3.5]] }, style: { fill: COLORS[3], ...edge } });
    graphic.push({ type: 'line', shape: { x1: LX - 5, y1: ROWS[4] - 5, x2: LX + 5, y2: ROWS[4] + 5 }, style: { stroke: COLORS[4], lineWidth: 1 } });
    graphic.push({ type: 'line', shape: { x1: LX + 5, y1: ROWS[4] - 5, x2: LX - 5, y2: ROWS[4] + 5 }, style: { stroke: COLORS[4], lineWidth: 1 } });
  }

  return {
    animation: false,
    backgroundColor: '#ffffff',
    textStyle: { fontFamily: FONT },
    grid, xAxis, yAxis, series, graphic,
  };
}

export default function App() {
  const mainRef = useRef<HTMLDivElement>(null);
  const lensRef = useRef<HTMLDivElement>(null);

  useEffect(() => {
    const main = echarts.init(mainRef.current!, null, { renderer: 'svg' });
    main.setOption(buildOption(null, false));
    const lens = echarts.init(lensRef.current!, null, { renderer: 'svg' });
    lens.setOption(buildOption(['3-4', '4-4'], true));
    return () => {
      main.dispose();
      lens.dispose();
    };
  }, []);

  return (
    <div style={{ position: 'fixed', left: 0, top: 0, width: 1290, height: 539, background: '#fff', overflow: 'hidden' }}>
      <div ref={mainRef} style={{ position: 'absolute', left: 0, top: 0, width: 1290, height: 539 }} />
      <div
        style={{
          position: 'absolute', left: 842, top: 35, width: 438, height: 438, borderRadius: '50%',
          overflow: 'hidden', background: '#fff', boxShadow: '3px 6px 10px rgba(0,0,0,0.45)',
        }}
      >
        <div
          ref={lensRef}
          style={{ position: 'absolute', left: -1657, top: -525, width: 1290, height: 539, transform: 'scale(2)', transformOrigin: '0 0' }}
        />
      </div>
      <div
        style={{
          position: 'absolute', left: 842, top: 35, width: 438, height: 438, borderRadius: '50%',
          border: '2px solid #000', boxSizing: 'border-box', pointerEvents: 'none',
        }}
      />
    </div>
  );
}
